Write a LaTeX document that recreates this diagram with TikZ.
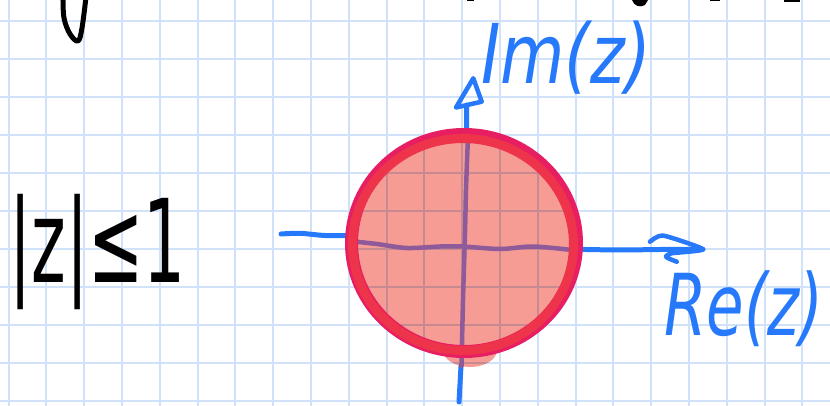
\documentclass[tikz,border=0pt]{standalone}
\usepackage{fontspec}
\setmainfont{DejaVu Sans}
\definecolor{gridc}{RGB}{207,226,250}
\definecolor{handblue}{RGB}{38,121,250}
\definecolor{fillc}{RGB}{246,156,148}
\definecolor{ringpink}{RGB}{232,30,98}
\definecolor{ringred}{RGB}{238,52,74}
\definecolor{axpurple}{RGB}{142,90,154}
\begin{document}
\begin{tikzpicture}[x=1pt,y=-1pt,
  gridline/.style={draw=gridc,line width=2pt},
  bluestroke/.style={draw=handblue,line width=5pt,line cap=round,line join=round},
  purplestroke/.style={draw=axpurple,line width=4.5pt,line cap=round,line join=round},
  inkstroke/.style={draw=black,line width=5pt,line cap=round,line join=round},
  bluetext/.style={text=handblue,inner sep=0pt}]
\useasboundingbox (0,0) rectangle (830,406);
\fill[white] (0,0) rectangle (830,406);
% graph paper
\foreach \i in {0,...,21} \draw[gridline] ({8.5+37.8*\i},0) -- ({8.5+37.8*\i},406);
\foreach \j in {0,...,10} \draw[gridline] (0,{20.7+38*\j}) -- (830,{20.7+38*\j});
% fragments of writing from above
\draw[inkstroke] plot[smooth,tension=0.6] coordinates {(63,-3) (64,18) (70,34) (78,41) (82,28) (86,-3)};
\fill (632,0) .. controls (634,6) and (640,8) .. (645,5) -- (648,0) -- cycle;
\fill (467,0) rectangle (474,1.2);
\fill (710,0) rectangle (720,1.5);
\fill (784,0) rectangle (800,2);
% axis coordinates
\coordinate (retip) at (703,249.3);
\coordinate (imtip) at (473.3,78.3);
% horizontal axis, outside parts
\draw[bluestroke] plot[smooth] coordinates {(281,234) (300,233.3) (325,235.5) (352,235.5)};
\draw[bluestroke] plot[smooth] coordinates {(576,249.3) (620,250) (660,249.5) (retip)};
\draw[bluestroke,line width=4.5pt] plot[smooth,tension=0.35] coordinates {(650,241.7) (663,235.5) (retip) (671.7,253.3) (666,257) (676.7,261.7)};
% vertical axis, outside parts
\draw[bluestroke] (459,402) -- (461,366);
\draw[bluestroke] (466.6,136) -- (466.7,105);
\draw[bluestroke,line width=4.5pt] (456,107.5) -- (imtip) -- (481.7,101.7) -- cycle;
% disc fill (one path, so the overlap is filled once)
\begin{scope}[blend mode=multiply]
\fill[fillc] (464,243) ellipse [x radius=112, y radius=108.5] (470,350) ellipse [x radius=27, y radius=17];
\end{scope}
% axes seen through the fill
\draw[purplestroke] plot[smooth] coordinates {(356,241.7) (377,244) (407,248) (440,246.5) (463,246.5) (500,249) (533,246.5) (572,250)};
\draw[purplestroke] plot[smooth] coordinates {(468,136) (466,190) (465,233) (463,300) (461.5,366)};
% ring
\draw[draw=ringpink,line width=13pt] (464,243) ellipse [x radius=112.5, y radius=108.5];
\draw[draw=ringred,line width=9pt] (463,244.5) ellipse [x radius=110.5, y radius=106];
% labels
\node[bluetext,anchor=base,yscale=1.25,font=\fontsize{66}{66}\selectfont\itshape] (im) at (566,84) {Im(z)};
\node[bluetext,anchor=base west,yscale=1.4,font=\fontsize{61}{61}\selectfont\itshape] (re) at (664,335) {Re(z)};
\node[inner sep=0pt,anchor=base west,yscale=1.75,font=\fontsize{66}{66}\selectfont] (ineq) at (9,283) {|z|≤1};
\end{tikzpicture}
\end{document}
